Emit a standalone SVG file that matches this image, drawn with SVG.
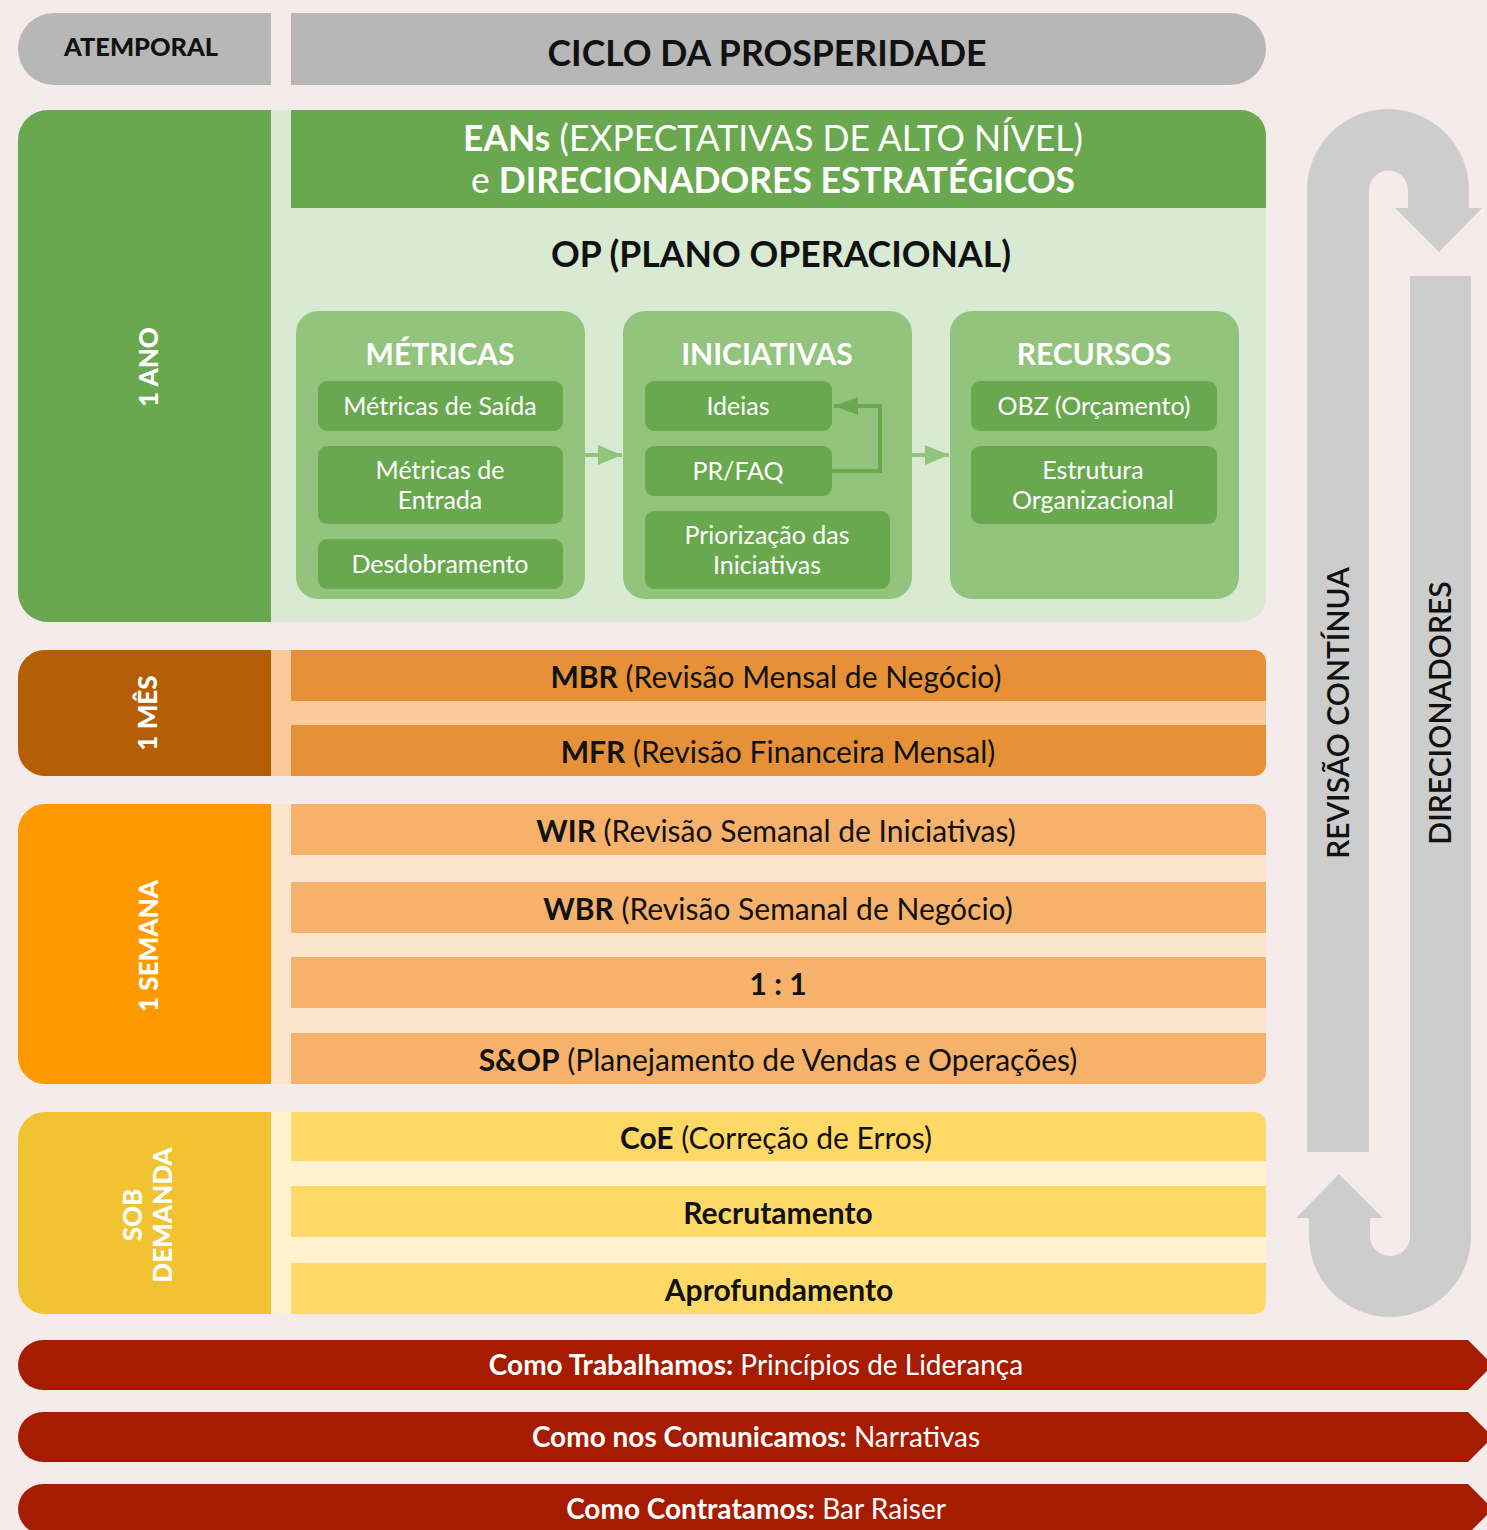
<svg xmlns="http://www.w3.org/2000/svg" width="1487" height="1530" viewBox="0 0 1487 1530">
<style>
text{font-family:Lato,"Liberation Sans",sans-serif;}
.b{font-weight:bold;}
.w{fill:#ffffff;}
.k{fill:#111111;}
.row{font-size:30px;text-anchor:middle;fill:#111111;}
.sub{font-size:25px;text-anchor:middle;fill:#ffffff;}
.hd{font-size:30px;font-weight:bold;text-anchor:middle;fill:#ffffff;}
.side{font-size:26px;font-weight:900;text-anchor:middle;fill:#ffffff;}
.ban{font-size:28px;text-anchor:middle;fill:#ffffff;}
.box{fill:#93c47d;}
.inner{fill:#6aa84f;}
.gray{fill:#cdcdcd;}
.red{fill:#a61c00;}
</style>
<defs>
<marker id="ahL" markerUnits="userSpaceOnUse" markerWidth="24" markerHeight="20" refX="24" refY="10" orient="auto"><path d="M0,0 L24,10 L0,20 Z" fill="#93c47d"/></marker>
<marker id="ahD" markerUnits="userSpaceOnUse" markerWidth="24" markerHeight="18" refX="24" refY="9" orient="auto"><path d="M0,0 L24,9 L0,18 Z" fill="#6aa84f"/></marker>
<clipPath id="cY"><path d="M48,110 H1241 A25,25 0 0 1 1266,135 V597 A25,25 0 0 1 1241,622 H48 A30,30 0 0 1 18,592 V140 A30,30 0 0 1 48,110 Z"/></clipPath>
<clipPath id="cM"><path d="M45,650 H1254 A12,12 0 0 1 1266,662 V764 A12,12 0 0 1 1254,776 H45 A27,27 0 0 1 18,749 V677 A27,27 0 0 1 45,650 Z"/></clipPath>
<clipPath id="cW"><path d="M45,804 H1254 A12,12 0 0 1 1266,816 V1072 A12,12 0 0 1 1254,1084 H45 A27,27 0 0 1 18,1057 V831 A27,27 0 0 1 45,804 Z"/></clipPath>
<clipPath id="cD"><path d="M45,1112 H1254 A12,12 0 0 1 1266,1124 V1302 A12,12 0 0 1 1254,1314 H45 A27,27 0 0 1 18,1287 V1139 A27,27 0 0 1 45,1112 Z"/></clipPath>
</defs>
<rect x="0" y="0" width="1487" height="1530" fill="#f6ebeb"/>

<!-- Top row -->
<g id="atemporal">
<path d="M54,13 H271 V85 H54 A36,36 0 0 1 54,13 Z" fill="#b7b7b7"/>
<text x="141" y="56" class="k" font-weight="900" font-size="25" text-anchor="middle" textLength="154" lengthAdjust="spacingAndGlyphs">ATEMPORAL</text>
</g>
<g id="ciclo">
<path d="M291,13 H1230 A36,36 0 0 1 1230,85 H291 Z" fill="#b7b7b7"/>
<text x="767" y="66" class="b k" font-size="36" text-anchor="middle" textLength="439" lengthAdjust="spacingAndGlyphs">CICLO DA PROSPERIDADE</text>
</g>

<!-- 1 ANO section -->
<g id="ano" clip-path="url(#cY)">
<rect x="18" y="110" width="1248" height="512" fill="#d9ead3"/>
<rect x="18" y="110" width="253" height="512" fill="#6aa84f"/>
<rect x="291" y="110" width="975" height="98" fill="#6aa84f"/>
</g>
<text transform="rotate(-90 149 367)" x="149" y="376" class="side">1 ANO</text>
<g id="eans">
<text x="773" y="151" class="w" font-size="37" text-anchor="middle" textLength="620" lengthAdjust="spacingAndGlyphs"><tspan font-weight="bold">EANs</tspan> (EXPECTATIVAS DE ALTO NÍVEL)</text>
<text x="773" y="193" class="w" font-size="37" text-anchor="middle" textLength="604" lengthAdjust="spacingAndGlyphs">e <tspan font-weight="bold">DIRECIONADORES ESTRATÉGICOS</tspan></text>
</g>
<g id="op">
<text x="781" y="267" class="b k" font-size="36" text-anchor="middle" textLength="460" lengthAdjust="spacingAndGlyphs">OP (PLANO OPERACIONAL)</text>
</g>

<g id="metricas">
<rect x="296" y="311" width="289" height="288" rx="22" class="box"/>
<text x="440" y="365" class="hd">MÉTRICAS</text>
<rect x="318" y="381" width="245" height="50" rx="9" class="inner"/>
<text x="440" y="415" class="sub">Métricas de Saída</text>
<rect x="318" y="446" width="245" height="78" rx="9" class="inner"/>
<text x="440" y="479" class="sub">Métricas de</text>
<text x="440" y="509" class="sub">Entrada</text>
<rect x="318" y="539" width="245" height="50" rx="9" class="inner"/>
<text x="440" y="573" class="sub">Desdobramento</text>
</g>

<g id="iniciativas">
<rect x="623" y="311" width="289" height="288" rx="22" class="box"/>
<text x="767" y="365" class="hd">INICIATIVAS</text>
<rect x="645" y="381" width="187" height="50" rx="9" class="inner"/>
<text x="738" y="415" class="sub">Ideias</text>
<rect x="645" y="446" width="187" height="50" rx="9" class="inner"/>
<text x="738" y="480" class="sub">PR/FAQ</text>
<rect x="645" y="511" width="245" height="78" rx="9" class="inner"/>
<text x="767" y="544" class="sub">Priorização das</text>
<text x="767" y="574" class="sub">Iniciativas</text>
</g>

<g id="recursos">
<rect x="950" y="311" width="289" height="288" rx="22" class="box"/>
<text x="1094" y="365" class="hd">RECURSOS</text>
<rect x="971" y="381" width="246" height="50" rx="9" class="inner"/>
<text x="1094" y="415" class="sub">OBZ (Orçamento)</text>
<rect x="971" y="446" width="246" height="78" rx="9" class="inner"/>
<text x="1093" y="479" class="sub">Estrutura</text>
<text x="1093" y="509" class="sub">Organizacional</text>
</g>

<g id="connectors">
<line x1="585" y1="455" x2="622" y2="455" stroke="#93c47d" stroke-width="4" marker-end="url(#ahL)"/>
<line x1="912" y1="455" x2="949" y2="455" stroke="#93c47d" stroke-width="4" marker-end="url(#ahL)"/>
<polyline points="832,471 880,471 880,406 834,406" fill="none" stroke="#6aa84f" stroke-width="4" marker-end="url(#ahD)"/>
</g>

<!-- 1 MES -->
<g id="mes">
<g clip-path="url(#cM)">
<rect x="18" y="650" width="1248" height="126" fill="#f9cb9c"/>
<rect x="18" y="650" width="253" height="126" fill="#b45f06"/>
<rect x="291" y="650" width="975" height="51" fill="#e69138"/>
<rect x="291" y="725" width="975" height="51" fill="#e69138"/>
</g>
<text transform="rotate(-90 148 713)" x="148" y="722" class="side">1 MÊS</text>
<text x="776" y="688" class="row"><tspan font-weight="bold">MBR</tspan> (Revisão Mensal de Negócio)</text>
<text x="778" y="763" class="row"><tspan font-weight="bold">MFR</tspan> (Revisão Financeira Mensal)</text>
</g>

<!-- 1 SEMANA -->
<g id="semana">
<g clip-path="url(#cW)">
<rect x="18" y="804" width="1248" height="280" fill="#fce5cd"/>
<rect x="18" y="804" width="253" height="280" fill="#ff9900"/>
<rect x="291" y="804" width="975" height="51" fill="#f6b26b"/>
<rect x="291" y="882" width="975" height="51" fill="#f6b26b"/>
<rect x="291" y="957" width="975" height="51" fill="#f6b26b"/>
<rect x="291" y="1033" width="975" height="51" fill="#f6b26b"/>
</g>
<text transform="rotate(-90 149 946)" x="149" y="955" class="side">1 SEMANA</text>
<text x="776" y="842" class="row"><tspan font-weight="bold">WIR</tspan> (Revisão Semanal de Iniciativas)</text>
<text x="778" y="920" class="row"><tspan font-weight="bold">WBR</tspan> (Revisão Semanal de Negócio)</text>
<text x="778" y="995" class="row b">1 : 1</text>
<text x="778" y="1071" class="row"><tspan font-weight="bold">S&amp;OP</tspan> (Planejamento de Vendas e Operações)</text>
</g>

<!-- SOB DEMANDA -->
<g id="demanda">
<g clip-path="url(#cD)">
<rect x="18" y="1112" width="1248" height="202" fill="#fff2cc"/>
<rect x="18" y="1112" width="253" height="202" fill="#f1c232"/>
<rect x="291" y="1112" width="975" height="49" fill="#ffd966"/>
<rect x="291" y="1186" width="975" height="51" fill="#ffd966"/>
<rect x="291" y="1263" width="975" height="51" fill="#ffd966"/>
</g>
<text transform="rotate(-90 148 1215)" class="side"><tspan x="148" y="1209">SOB</tspan><tspan x="148" y="1239">DEMANDA</tspan></text>
<text x="776" y="1149" class="row"><tspan font-weight="bold">CoE</tspan> (Correção de Erros)</text>
<text x="778" y="1224" class="row b">Recrutamento</text>
<text x="779" y="1301" class="row b">Aprofundamento</text>
</g>

<!-- Right-side cycle arrows -->
<g id="revisao">
<path class="gray" d="M1307,1152 V190 A81,81 0 0 1 1469,190 V208 H1482 L1439,252 L1395,208 H1408 V190 A19.5,19.5 0 0 0 1369,190 V1152 Z"/>
<text transform="rotate(-90 1338 713)" x="1338" y="724" font-size="30" font-weight="600" text-anchor="middle" fill="#111111">REVISÃO CONTÍNUA</text>
</g>
<g id="direcionadores">
<path class="gray" d="M1471,276 V1236 A81,81 0 0 1 1309,1236 V1218 H1296 L1339,1174 L1383,1218 H1370 V1236 A20,20 0 0 0 1410,1236 V276 Z"/>
<text transform="rotate(-90 1440 713)" x="1440" y="724" font-size="30" font-weight="600" text-anchor="middle" fill="#111111">DIRECIONADORES</text>
</g>

<!-- Bottom banners -->
<g id="trabalhamos">
<path class="red" d="M43,1340 H1468 L1493,1365 L1468,1390 H43 A25,25 0 0 1 43,1340 Z"/>
<text x="756" y="1375" class="ban"><tspan font-weight="bold">Como Trabalhamos:</tspan> Princípios de Liderança</text>
</g>
<g id="comunicamos">
<path class="red" d="M43,1412 H1468 L1493,1437 L1468,1462 H43 A25,25 0 0 1 43,1412 Z"/>
<text x="756" y="1447" class="ban"><tspan font-weight="bold">Como nos Comunicamos:</tspan> Narrativas</text>
</g>
<g id="contratamos">
<path class="red" d="M43,1484 H1468 L1493,1509 L1468,1534 H43 A25,25 0 0 1 43,1484 Z"/>
<text x="756" y="1519" class="ban"><tspan font-weight="bold">Como Contratamos:</tspan> Bar Raiser</text>
</g>
</svg>
